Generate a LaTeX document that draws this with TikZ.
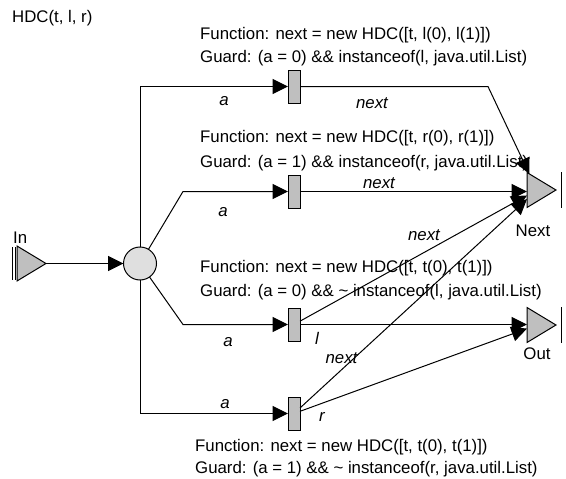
\documentclass[tikz,border=0pt]{standalone}
\usepackage{fontspec}
\setmainfont{Liberation Sans}
\usetikzlibrary{arrows.meta,shapes.geometric}
\begin{document}
\begin{tikzpicture}[x=1pt,y=-1pt,
  font=\fontsize{16.8}{20}\selectfont,
  arr/.style={-{Triangle[length=15.5pt,width=15pt]}, line width=1pt},
  trans/.style={draw, fill=gray!50, rectangle, minimum width=12pt, minimum height=33pt, inner sep=0pt, outer sep=0pt, line width=1pt},
  place/.style={draw, fill=gray!25, circle, minimum size=33pt, inner sep=0pt, outer sep=0pt, line width=1pt},
  port/.style={draw, fill=gray!50, isosceles triangle, isosceles triangle stretches, minimum width=35pt, minimum height=29pt, inner sep=0pt, outer sep=0pt, line width=1pt},
  lbl/.style={font=\fontsize{16.8}{20}\selectfont\itshape, inner sep=0pt},
  txt/.style={anchor=base west, inner sep=0pt}
]
\useasboundingbox (0,0) rectangle (566,479);

% places and transitions
\node[place] (c) at (140,263.5) {};
\node[trans] (t1) at (294,86.5) {};
\node[trans] (t2) at (294,191.5) {};
\node[trans] (t3) at (294,324.5) {};
\node[trans] (t4) at (294,413.5) {};

% ports
\node[port, anchor=lower side] (In) at (17,263.5) {};
\node[port, anchor=lower side] (Next) at (527,190) {};
\node[port, anchor=lower side] (Out) at (527,325) {};
\draw[line width=1pt] (12.5,247) coordinate (inb1) -- (12.5,280) coordinate (inb2);
\draw[line width=1pt] (15.5,247) coordinate (inb3) -- (15.5,280) coordinate (inb4);
\draw[line width=1pt] (561,172) coordinate (nb1) -- (561,208) coordinate (nb2);
\draw[line width=1pt] (561,307) coordinate (ob1) -- (561,343) coordinate (ob2);

% bend points
\coordinate (k1) at (488,86.5);
\coordinate (k2) at (183,191.5);
\coordinate (k3) at (183,324.5);

% connectors
\draw[arr] (In) -- (c);
\draw[arr] (c) |- (t1);
\draw[arr] (c) -- (k2) -- (t2);
\draw[arr] (c) -- (k3) -- (t3);
\draw[arr] (c) |- (t4);
\draw[arr] (t1) -- (k1) -- (Next);
\draw[arr] (t2) -- (t2 -| Next.lower side);
\draw[arr] (t3) -- (Next);
\draw[arr] (t3) -- (t3 -| Out.lower side);
\draw[arr] (t4) -- (Next);
\draw[arr] (t4) -- (Out);

% connector labels
\node[lbl] (la1) at (224,101) {a};
\node[lbl] (la2) at (223,212) {a};
\node[lbl] (la3) at (228,342) {a};
\node[lbl] (la4) at (225,404) {a};
\node[lbl] (ln1) at (372,103) {next};
\node[lbl] (ln2) at (379,183) {next};
\node[lbl] (ln3) at (424,235) {next};
\node[lbl] (ln4) at (341.5,358) {next};
\node[lbl] (ll) at (317,338) {l};
\node[lbl] (lr) at (322,417) {r};

% texts
\node[txt] (title) at (12,23) {HDC(t, l, r)};
\node[txt] (inl) at (13,243) {In};
\node[anchor=base, inner sep=0pt] (nextl) at (533,236) {Next};
\node[anchor=base, inner sep=0pt] (outl) at (537,359) {Out};

\node[txt] (f1) at (200,39) {Function: next = new HDC([t, l(0), l(1)])};
\node[txt] (g1) at (200,62) {Guard: (a = 0) \&\& instanceof(l, java.util.List)};
\node[txt] (f2) at (200,142) {Function: next = new HDC([t, r(0), r(1)])};
\node[txt] (g2) at (200,167) {Guard: (a = 1) \&\& instanceof(r, java.util.List)};
\node[txt] (f3) at (200,272) {Function: next = new HDC([t, t(0), t(1)])};
\node[txt] (g3) at (200,296) {Guard: (a = 0) \&\& \textasciitilde{} instanceof(l, java.util.List)};
\node[txt] (f4) at (195,451) {Function: next = new HDC([t, t(0), t(1)])};
\node[txt] (g4) at (195,473) {Guard: (a = 1) \&\& \textasciitilde{} instanceof(r, java.util.List)};
\end{tikzpicture}
\end{document}
